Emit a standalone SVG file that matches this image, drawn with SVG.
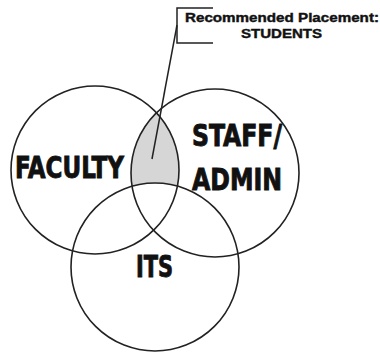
<svg xmlns="http://www.w3.org/2000/svg" width="380" height="352" viewBox="0 0 380 352">
<style>
.c{fill:none;stroke:#222;stroke-width:1.6}
.lbl{font-family:"Liberation Sans Narrow","DejaVu Sans Condensed","Liberation Sans",sans-serif;font-weight:bold;font-size:31px;fill:#111;stroke:#111;stroke-width:0.9}
.note{font-family:"Liberation Sans",Arial,sans-serif;font-weight:bold;font-size:12.5px;fill:#111;stroke:#111;stroke-width:0.4}
.ln{fill:none;stroke:#222;stroke-width:1.5}
</style>
<rect width="380" height="352" fill="#fff"/>
<g id="students">
<path d="M156.5,112.75 A84,84 0 0 0 132,186.2 A84,84 0 0 1 177.4,186.1 A84,84 0 0 0 156.5,112.75 Z" fill="#d6d6d6"/>
</g>
<g id="faculty">
<circle class="c" cx="95" cy="170" r="84"/>
<text class="lbl" x="15" y="178" textLength="109" lengthAdjust="spacingAndGlyphs">FACULTY</text>
</g>
<g id="staff-admin">
<circle class="c" cx="215" cy="173" r="84"/>
<text class="lbl" x="192" y="146" textLength="90" lengthAdjust="spacingAndGlyphs">STAFF/</text>
<text class="lbl" x="192" y="190" textLength="90" lengthAdjust="spacingAndGlyphs">ADMIN</text>
</g>
<g id="its">
<circle class="c" cx="155" cy="267" r="84"/>
<text class="lbl" x="136" y="277" textLength="37" lengthAdjust="spacingAndGlyphs">ITS</text>
</g>
<g id="connectors">
<line class="ln" x1="152" y1="159" x2="177" y2="25"/>
<polyline class="ln" points="213,8 177,8 177,43 213,43"/>
</g>
<g id="note">
<text class="note" x="185" y="22" textLength="194" lengthAdjust="spacingAndGlyphs">Recommended Placement:</text>
<text class="note" x="241" y="38" textLength="81" lengthAdjust="spacingAndGlyphs">STUDENTS</text>
</g>
</svg>
